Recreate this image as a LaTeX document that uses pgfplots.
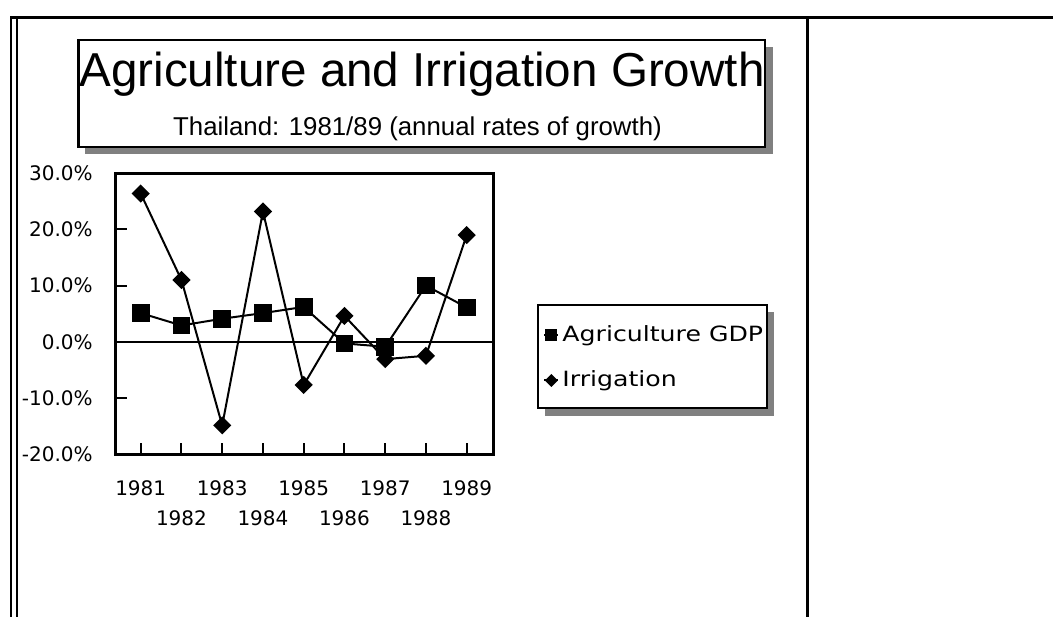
\documentclass[border=0pt]{standalone}
\usepackage{fontspec}
\setmainfont{Liberation Sans}
\newfontfamily\dejavu{DejaVu Sans}
\usepackage{graphicx}
\usepackage{pgfplots}
\pgfplotsset{compat=1.18}
\definecolor{shadowgray}{RGB}{128,128,128}

\begin{document}
\begin{tikzpicture}
\useasboundingbox (0,0) rectangle (526.5pt,-308.5pt);
\begin{scope}[x=0.5pt,y=-0.5pt]
  % outer frame
  \draw[line width=1.5pt] (10,17.5) -- (1053,17.5);
  \draw[line width=1.2pt] (11.2,17.5) -- (11.2,617);
  \draw[line width=1.2pt] (17,17.5) -- (17,617);
  \draw[line width=1.2pt] (807.3,17.5) -- (807.3,617);
  % title box
  \fill[shadowgray] (85,47) rectangle (773,154);
  \draw[line width=1.2pt, fill=white] (78.3,40) rectangle (765,146.7);
  \node[anchor=base, inner sep=0pt, font=\fontsize{23.8}{26}\selectfont] at (422,86) {Agriculture and Irrigation Growth};
  \node[anchor=base, inner sep=0pt, font=\fontsize{12.9}{14}\selectfont] at (417.5,135) {Thailand: 1981/89 (annual rates of growth)};
  % legend box
  \fill[shadowgray] (545,312) rectangle (774,416);
  \draw[line width=1.2pt, fill=white] (538,305) rectangle (766.7,408);
\end{scope}

\begin{axis}[
  at={(57.85pt,-227pt)}, anchor=south west,
  scale only axis, width=188.8pt, height=140.35pt,
  xmin=1980.386, xmax=1989.653, ymin=-20, ymax=30,
  axis line style={line width=1.5pt},
  tick align=inside, xtick pos=lower, ytick pos=left,
  major tick length=5.5pt,
  tick style={line width=1pt, black},
  xtick={1981,1983,1985,1987,1989},
  xticklabels={1981,1983,1985,1987,1989},
  extra x ticks={1982,1984,1986,1988},
  extra x tick labels={1982,1984,1986,1988},
  extra x tick style={xticklabel style={yshift=-15pt}},
  xticklabel style={anchor=center, yshift=-17pt},
  ytick={-20,-10,0,10,20,30},
  yticklabels={-20.0\%,-10.0\%,0.0\%,10.0\%,20.0\%,30.0\%},
  yticklabel style={anchor=east, inner sep=0pt, xshift=-11.3pt},
  ticklabel style={font=\dejavu\fontsize{10}{12}\selectfont},
  extra y ticks={0}, extra y tick labels={},
  extra y tick style={grid=major, major grid style={black, line width=1pt}},
  legend style={at={(1.1316,0.4596)}, anchor=north west, draw=none, fill=none,
    inner sep=0pt, row sep=13.3pt, column sep=1.5pt,
    font=\dejavu\fontsize{10.5}{12}\selectfont,
    nodes={inner sep=0pt}},
  legend cell align=left,
  legend image code/.code={\draw[mark repeat=2,mark phase=2,#1] plot coordinates {(0pt,0pt) (3.5pt,0pt) (7pt,0pt)};},
]
\addplot[black, line width=1pt, mark=square*, mark size=3.9pt, legend image post style={mark size=2.5pt}]
  coordinates {(1981,5.1) (1982,2.9) (1983,4.1) (1984,5.1) (1985,6.2) (1986,-0.3) (1987,-0.9) (1988,10.0) (1989,6.1)};
\addlegendentry{\scalebox{1.2}[1]{Agriculture GDP}}
\addplot[black, line width=1pt, mark=square*, mark size=2.7pt, mark options={rotate=45},
  legend image post style={mark size=1.8pt}]
  coordinates {(1981,26.4) (1982,11.0) (1983,-14.9) (1984,23.2) (1985,-7.7) (1986,4.6) (1987,-3.1) (1988,-2.5) (1989,19.0)};
\addlegendentry{\scalebox{1.2}[1]{Irrigation}}
\end{axis}
\end{tikzpicture}
\end{document}
